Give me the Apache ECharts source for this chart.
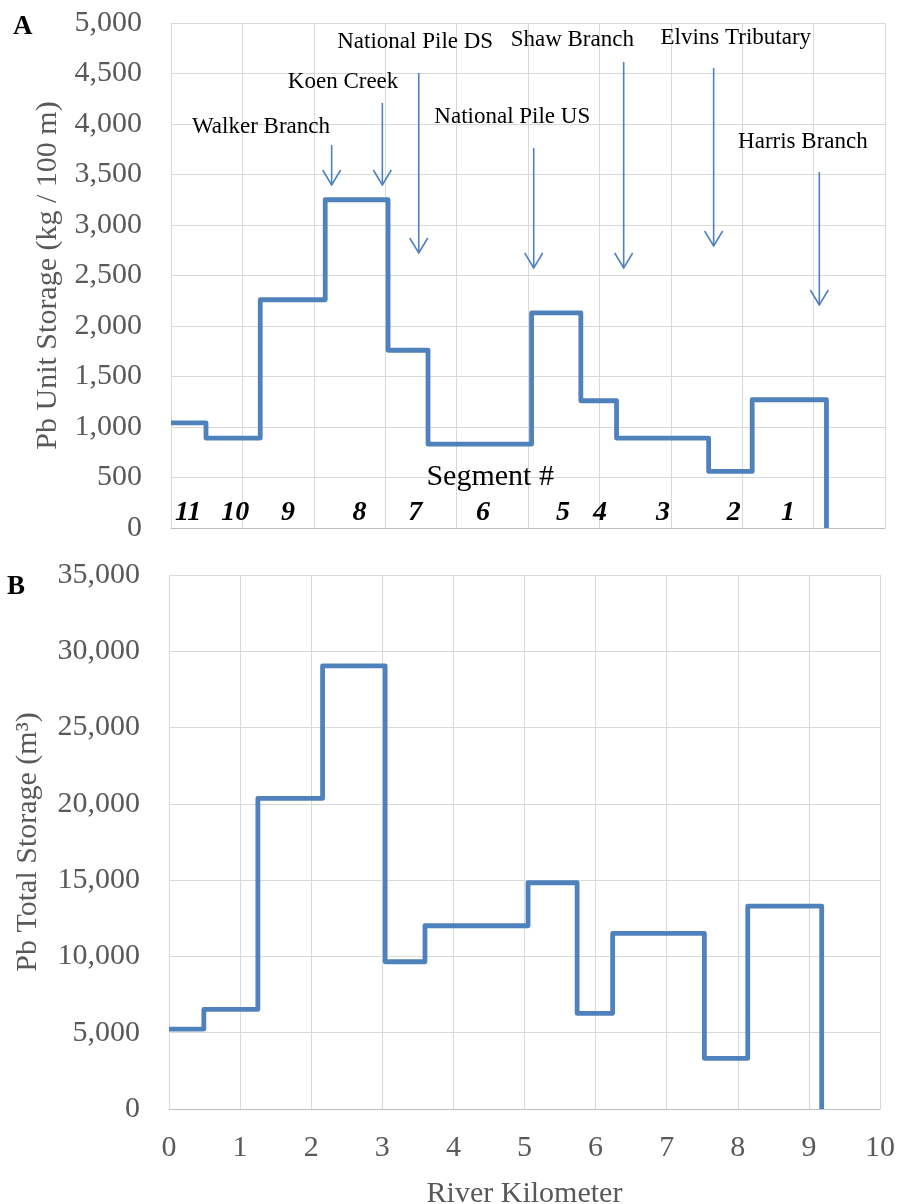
<!DOCTYPE html>
<html>
<head>
<meta charset="utf-8">
<script src="https://cdn.jsdelivr.net/npm/echarts@6/dist/echarts.min.js"></script>
<style>
  html, body { margin: 0; padding: 0; background: #fff; }
  #chart { width: 898px; height: 1204px; }
</style>
</head>
<body>
<div id="chart"></div>
<script>
// segment boundaries along the river (km), segments 11 .. 1
const segmentEdges = [0, 0.49, 1.25, 2.16, 3.04, 3.60, 5.05, 5.74, 6.24, 7.53, 8.14, 9.18];
const unitStorage = [1040, 890, 2260, 3250, 1760, 830, 2130, 1260, 890, 560, 1270];          // kg / 100 m
const totalStorage = [5240, 6530, 20360, 29050, 9650, 12010, 14830, 6270, 11510, 3320, 13300]; // m3

const segmentNums = ['11', '10', '9', '8', '7', '6', '5', '4', '3', '2', '1'];
const segmentNumKm = [0.24, 0.9, 1.64, 2.64, 3.42, 4.37, 5.49, 6.01, 6.89, 7.88, 8.64];
const segmentNumY = 150;
const segmentTitle = { text: 'Segment #', km: 4.47, y: 505 };

const tributaries = ['Walker Branch', 'Koen Creek', 'National Pile DS', 'National Pile US',
  'Shaw Branch', 'Elvins Tributary', 'Harris Branch'];
const tribLabelKm = [1.26, 2.41, 3.42, 4.78, 5.62, 7.91, 8.85];
const tribLabelY = [3970, 4416, 4812, 4069, 4832, 4851, 3822];
const arrowKm = [2.25, 2.96, 3.47, 5.08, 6.34, 7.60, 9.08];
const arrowFrom = [3792, 4208, 4505, 3762, 4614, 4554, 3525];
const arrowTo = [3396, 3396, 2723, 2574, 2574, 2792, 2208];

const FONT = '"Liberation Serif", "Times New Roman", serif';
const BLUE = '#4f81bd';
const GRID = '#d9d9d9';
const TXT = '#595959';

function stepPath(vals) {
  const pts = [];
  vals.forEach((v, i) => {
    pts.push([segmentEdges[i], v]);
    pts.push([segmentEdges[i + 1], v]);
  });
  pts.push([segmentEdges[segmentEdges.length - 1], 0]);
  return pts;
}

const fmt = v => String(v).replace(/\B(?=(\d{3})+(?!\d))/g, ',');

function xAx(idx, showLabels) {
  const ax = {
    gridIndex: idx, type: 'value', min: 0, max: 10, interval: 1,
    axisTick: { show: false },
    axisLine: { show: true, lineStyle: { color: '#bfbfbf', width: 1 } },
    splitLine: { show: true, lineStyle: { color: GRID, width: 1 } },
    axisLabel: { show: showLabels, fontSize: 30, color: TXT, fontFamily: FONT, margin: 24 }
  };
  if (showLabels) {
    ax.name = 'River Kilometer';
    ax.nameLocation = 'middle';
    ax.nameGap = 70;
    ax.nameTextStyle = { fontSize: 30, color: TXT, fontFamily: FONT };
  }
  return ax;
}

function yAx(idx, max, interval, name, gap) {
  return {
    gridIndex: idx, type: 'value', min: 0, max: max, interval: interval,
    name: name, nameLocation: 'middle', nameRotate: 90, nameGap: gap,
    nameTextStyle: { fontSize: 30, color: TXT, fontFamily: FONT },
    axisTick: { show: false },
    axisLine: { show: true, lineStyle: { color: GRID } },
    splitLine: { show: true, lineStyle: { color: GRID, width: 1 } },
    axisLabel: { fontSize: 30, color: TXT, fontFamily: FONT, margin: 29, formatter: fmt }
  };
}

function textSeries(points, labels, font) {
  return {
    type: 'custom', xAxisIndex: 0, yAxisIndex: 0, silent: true, clip: false, z: 5,
    data: points,
    renderItem: (params, api) => {
      const p = api.coord([api.value(0), api.value(1)]);
      return {
        type: 'text', x: p[0], y: p[1],
        style: { text: labels[params.dataIndex], font: font, fill: '#000', align: 'center', verticalAlign: 'middle' }
      };
    }
  };
}

const chart = echarts.init(document.getElementById('chart'), null, { renderer: 'canvas' });
chart.setOption({
  animation: false,
  backgroundColor: '#fff',
  grid: [
    { left: 171, top: 23, width: 714, height: 505, outerBoundsMode: 'none' },
    { left: 169, top: 575, width: 711, height: 534, outerBoundsMode: 'none' }
  ],
  xAxis: [xAx(0, false), xAx(1, true)],
  yAxis: [
    yAx(0, 5000, 500, 'Pb Unit Storage (kg / 100 m)', 107),
    yAx(1, 35000, 5000, 'Pb Total Storage (m³)', 126)
  ],
  graphic: [
    { type: 'text', left: 13, top: 14, style: { text: 'A', font: 'bold 27px ' + FONT, fill: '#000' } },
    { type: 'text', left: 7, top: 574, style: { text: 'B', font: 'bold 27px ' + FONT, fill: '#000' } }
  ],
  series: [
    {
      type: 'line', xAxisIndex: 0, yAxisIndex: 0, data: stepPath(unitStorage),
      showSymbol: false, silent: true, clip: false,
      lineStyle: { color: BLUE, width: 4.8, join: 'round' }
    },
    {
      type: 'line', xAxisIndex: 1, yAxisIndex: 1, data: stepPath(totalStorage),
      showSymbol: false, silent: true, clip: false,
      lineStyle: { color: BLUE, width: 4.8, join: 'round' }
    },
    {
      type: 'custom', xAxisIndex: 0, yAxisIndex: 0, silent: true, clip: false,
      encode: { x: 0, y: [1, 2] },
      data: arrowKm.map((x, i) => [x, arrowFrom[i], arrowTo[i]]),
      renderItem: (params, api) => {
        const a = api.coord([api.value(0), api.value(1)]);
        const b = api.coord([api.value(0), api.value(2)]);
        const st = { stroke: BLUE, lineWidth: 1.6, fill: null };
        return {
          type: 'group',
          children: [
            { type: 'line', shape: { x1: a[0], y1: a[1], x2: b[0], y2: b[1] }, style: st },
            { type: 'polyline', shape: { points: [[b[0] - 9, b[1] - 15], [b[0], b[1]], [b[0] + 9, b[1] - 15]] }, style: st }
          ]
        };
      }
    },
    textSeries(tribLabelKm.map((x, i) => [x, tribLabelY[i]]), tributaries, '23px ' + FONT),
    textSeries(segmentNumKm.map(x => [x, segmentNumY]), segmentNums, 'italic bold 28px ' + FONT),
    textSeries([[segmentTitle.km, segmentTitle.y]], [segmentTitle.text], '30px ' + FONT)
  ]
});
</script>
</body>
</html>
